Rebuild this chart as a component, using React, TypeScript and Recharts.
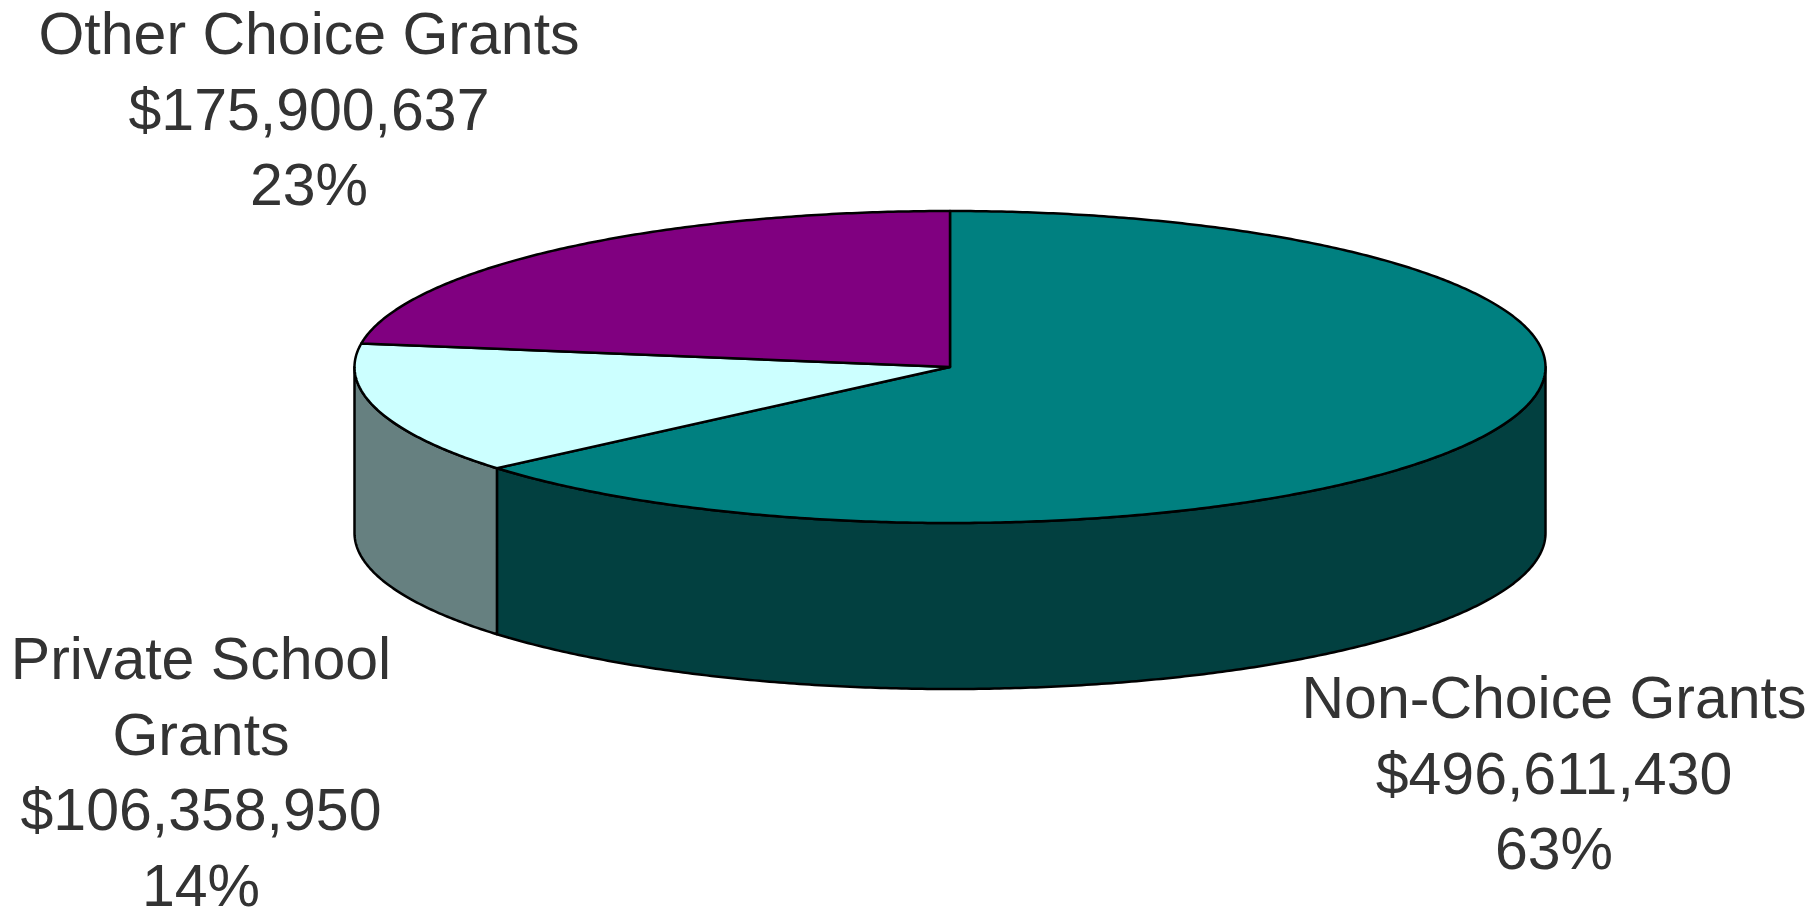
import React from 'react';
import { PieChart, Pie } from 'recharts';

// ---- data ----
const categories = ['Non-Choice Grants', 'Private School Grants', 'Other Choice Grants'];
const amounts = [496611430, 106358950, 175900637];
const nameLines = [['Non-Choice Grants'], ['Private School', 'Grants'], ['Other Choice Grants']];
const amountLabels = ['$496,611,430', '$106,358,950', '$175,900,637'];
const percentLabels = ['63%', '14%', '23%'];

// ---- styles / layout ----
const topColors = ['#008080', '#CCFFFF', '#800080'];
const sideColors = ['#024040', '#668080', '#400040'];
const labelLayout = [
  { x: 1554, y: 718 },
  { x: 201, y: 679 },
  { x: 309, y: 54 },
];
const LINE_H = 75.5;
const W = 1820;
const H = 908;
const CX = 950;
const CY = 367;
const R = 595.5;
const TILT = 156 / 595.5;
const DEPTH = 166;

const data = categories.map((name, idx) => ({ name, value: amounts[idx], idx }));

const RAD = Math.PI / 180;
function arcPts(cx: number, cy: number, r: number, a0: number, a1: number, dy: number) {
  const n = Math.max(2, Math.ceil(Math.abs(a1 - a0) / 0.5));
  const pts: string[] = [];
  for (let i = 0; i <= n; i++) {
    const a = (a0 + ((a1 - a0) * i) / n) * RAD;
    const x = cx + r * Math.cos(a);
    const y = cy - r * TILT * Math.sin(a) + dy;
    pts.push(`${x.toFixed(2)},${y.toFixed(2)}`);
  }
  return pts;
}

const Slice3D = (props: any) => {
  const { cx, cy, outerRadius, startAngle, endAngle } = props;
  const idx = props.idx ?? props.payload?.idx ?? props.index ?? 0;
  const hi = Math.max(startAngle, endAngle);
  const lo = Math.min(startAngle, endAngle);
  const top = arcPts(cx, cy, outerRadius, startAngle, endAngle, 0);
  const topD = `M${cx},${cy} L${top.join(' L')} Z`;
  const walls: string[] = [];
  for (let k = -2; k <= 2; k++) {
    const fLo = -180 + 360 * k;
    const fHi = 360 * k;
    const a = Math.max(lo, fLo);
    const b = Math.min(hi, fHi);
    if (b > a) {
      const upper = arcPts(cx, cy, outerRadius, b, a, 0);
      const lower = arcPts(cx, cy, outerRadius, a, b, DEPTH);
      walls.push(`M${upper.join(' L')} L${lower.join(' L')} Z`);
    }
  }
  return (
    <g>
      {walls.map((d, i) => (
        <path key={i} d={d} fill={sideColors[idx]} stroke="#000" strokeWidth={2.5} strokeLinejoin="round" />
      ))}
      <path d={topD} fill={topColors[idx]} stroke="#000" strokeWidth={2.5} strokeLinejoin="round" />
    </g>
  );
};

const renderLabel = (props: any) => {
  const idx = props.idx ?? props.payload?.idx ?? props.index ?? 0;
  const pos = labelLayout[idx];
  const lines = [...nameLines[idx], amountLabels[idx], percentLabels[idx]];
  return (
    <text
      key={`lbl-${idx}`}
      x={pos.x}
      y={pos.y}
      textAnchor="middle"
      fill="#333333"
      stroke="none"
      fontFamily="'Liberation Sans', Arial, sans-serif"
      fontSize={59}
    >
      {lines.map((l, i) => (
        <tspan key={i} x={pos.x} y={pos.y + i * LINE_H}>
          {l}
        </tspan>
      ))}
    </text>
  );
};

export default function App() {
  return (
    <div style={{ position: 'absolute', left: 0, top: 0, width: W, height: H, background: '#fff' }}>
      <PieChart width={W} height={H} margin={{ top: 0, right: 0, bottom: 0, left: 0 }}>
        <Pie
          data={data}
          dataKey="value"
          nameKey="name"
          cx={CX}
          cy={CY}
          innerRadius={0}
          outerRadius={R}
          startAngle={90}
          endAngle={-270}
          isAnimationActive={false}
          shape={Slice3D}
          label={renderLabel}
          labelLine={false}
        />
      </PieChart>
    </div>
  );
}
